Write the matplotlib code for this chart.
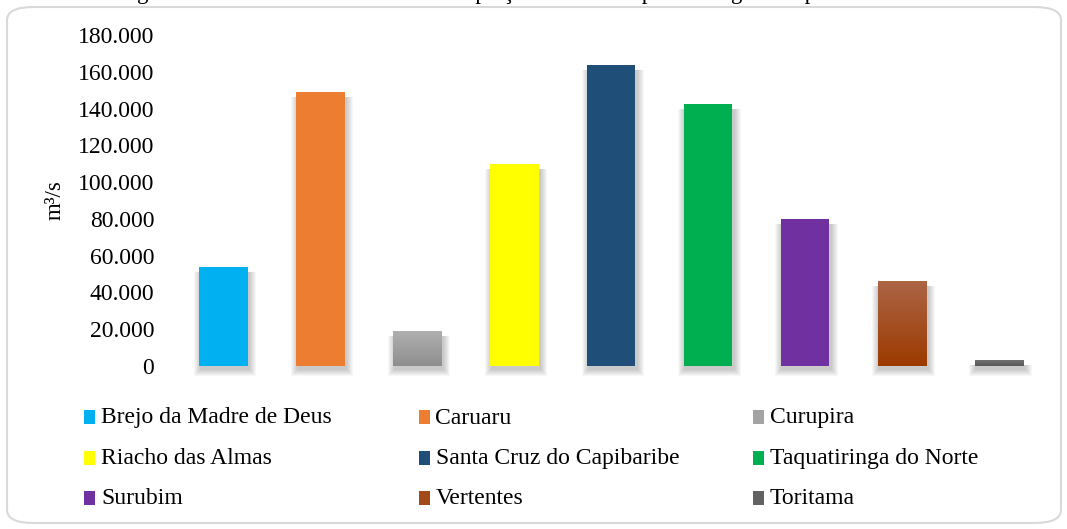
import matplotlib
matplotlib.use("Agg")
import matplotlib.pyplot as plt
import numpy as np
from matplotlib.patches import Rectangle, FancyBboxPatch
from matplotlib.colors import LinearSegmentedColormap
from matplotlib.ticker import FuncFormatter

# ---------------- data ----------------
municipios = ["Brejo da Madre de Deus", "Caruaru", "Curupira",
              "Riacho das Almas", "Santa Cruz do Capibaribe", "Taquatiringa do Norte",
              "Surubim", "Vertentes", "Toritama"]
vazoes = [54000, 149000, 19000, 110000, 163500, 142500, 80000, 46000, 3000]
cores = ["#00B0F0", "#ED7D31", "#A3A3A3", "#FFFF00", "#1F4E79", "#00B050",
         "#7030A0", "#A34A1A", "#626262"]
# gradient (top, bottom) for bars that have one
gradientes = {2: ("#B0B0B0", "#8E8E8E"), 7: ("#AC6545", "#9C3A00"), 8: ("#707070", "#585858")}
yticks = [0, 20000, 40000, 60000, 80000, 100000, 120000, 140000, 160000, 180000]
titulo = "Figura 4 – Vazão média estimada de captação dos municípios da região do polo"
ylabel = "m³/s"

W, H = 1067, 529
plt.rcParams["font.family"] = ["Liberation Serif", "DejaVu Serif"]
fig = plt.figure(figsize=(W / 100, H / 100), dpi=100)

# rounded frame
frame = FancyBboxPatch((7 / W, 6 / H), (1061 - 7) / W, (522 - 6) / H,
                       boxstyle="round,pad=0,rounding_size=0.025",
                       transform=fig.transFigure, facecolor="white",
                       edgecolor="#D9D9D9", linewidth=1.5, zorder=-5)
fig.patches.append(frame)

# clipped title (only descenders visible, as in the reference)
fig.text(118 / W, 1 + 1 / H, titulo, ha="left", va="baseline", fontsize=16.5,
         color="black")

left, right = 175 / W, 1047.5 / W
bottom, top = 1 - 366 / H, 1 - 35 / H
ax = fig.add_axes([left, bottom, right - left, top - bottom], zorder=2)
ax.set_facecolor("none")
ax.set_xlim(-0.5, len(municipios) - 0.5)
ax.set_ylim(0, 180000)

x = np.arange(len(municipios))
bars = ax.bar(x, vazoes, width=0.5, color=cores, zorder=3)

# pixel units in data
px_x = (len(municipios)) / (872.5)
px_y = 180000 / 331.0

# soft shadows (offset down/right, blurred)
for b in bars:
    x0, w, h = b.get_x(), b.get_width(), b.get_height()
    for k in range(7, 0, -1):
        ax.add_patch(Rectangle((x0 - k * px_x + 1.5 * px_x, -k * px_y - 3 * px_y),
                               w + 2 * k * px_x, h + k * px_y - 2 * px_y,
                               facecolor="black", edgecolor="none", alpha=0.032,
                               zorder=2, clip_on=False))

# gradients
for i, (ctop, cbot) in gradientes.items():
    b = bars[i]
    cmap = LinearSegmentedColormap.from_list("g%d" % i, [cbot, ctop])
    grad = np.linspace(0, 1, 64).reshape(-1, 1)
    ax.imshow(grad, cmap=cmap, origin="lower", aspect="auto",
              extent=(b.get_x(), b.get_x() + b.get_width(), 0, b.get_height()),
              zorder=4)
ax.set_xlim(-0.5, len(municipios) - 0.5)
ax.set_ylim(0, 180000)

for s in ax.spines.values():
    s.set_visible(False)
ax.set_xticks([])
ax.set_yticks(yticks)
ax.yaxis.set_major_formatter(FuncFormatter(lambda v, p: f"{int(v):,}".replace(",", ".")))
ax.tick_params(axis="y", length=0, pad=15, labelsize=17, labelcolor="black")
ax.set_ylabel(ylabel, fontsize=16.5)
ax.yaxis.set_label_coords(-(175 - 66) / 872.5, 0.5)

# manual legend (3 columns, row-wise)
for i, (nome, cor) in enumerate(zip(municipios, cores)):
    col, row = i % 3, i // 3
    lx = 84 + col * 334.5
    ly = 417 + row * 40.5
    fig.patches.append(Rectangle((lx / W, 1 - (ly + 7) / H), 11 / W, 14 / H,
                                 transform=fig.transFigure, facecolor=cor,
                                 edgecolor="none"))
    fig.text((lx + 17) / W, 1 - (ly + 6.5) / H, nome, ha="left", va="baseline",
             fontsize=17, color="black")

fig.savefig("out.png", dpi=100)
